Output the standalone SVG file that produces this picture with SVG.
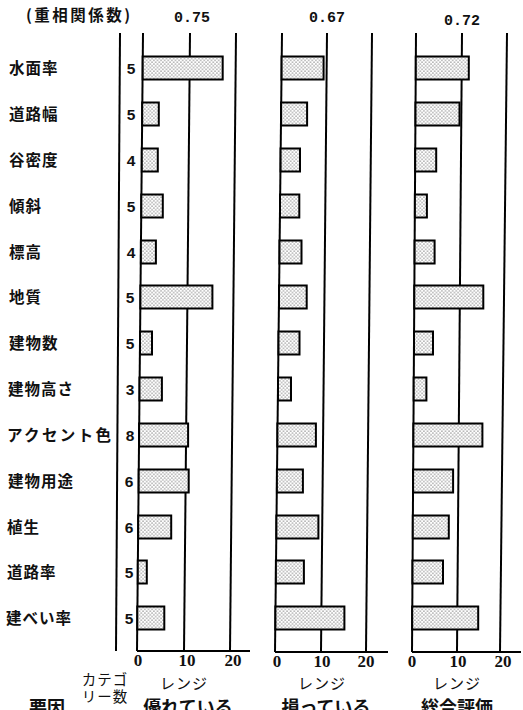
<svg xmlns="http://www.w3.org/2000/svg" width="523" height="710" viewBox="0 0 523 710">
<defs>
<pattern id="dots" patternUnits="userSpaceOnUse" width="3.6" height="3.6">
<rect width="3.6" height="3.6" fill="#fff"/>
<circle cx="0.9" cy="0.9" r="0.55" fill="#000"/>
<circle cx="2.7" cy="2.7" r="0.55" fill="#000"/>
</pattern>
</defs>
<style>
.lbl{font-family:"Noto Sans CJK JP","Noto Sans",sans-serif;font-size:15.5px;font-weight:bold;fill:#111;letter-spacing:1px}
.cat{font-family:"Liberation Sans",Arial,sans-serif;font-size:15.5px;font-weight:bold;fill:#111;text-anchor:middle}
.hdr{font-family:"Noto Sans CJK JP","Noto Sans",sans-serif;font-size:15.5px;font-weight:bold;fill:#111}
.coef{font-family:"Liberation Mono","Courier New",monospace;font-size:15px;font-weight:bold;fill:#111;text-anchor:middle}
.tick{font-family:"Liberation Serif","Times New Roman",serif;font-size:17px;font-weight:bold;fill:#111;text-anchor:middle}
.ax{font-family:"Noto Sans CJK JP",sans-serif;font-size:15px;fill:#111;text-anchor:middle;letter-spacing:1px}
.ax2{font-family:"Noto Sans CJK JP",sans-serif;font-size:14.5px;fill:#111;text-anchor:middle;letter-spacing:1px}
.ttl{font-family:"Noto Sans CJK JP",sans-serif;font-size:18px;font-weight:bold;fill:#111;text-anchor:middle}
.vl{stroke:#000;stroke-width:2;fill:none}
.bar{fill:url(#dots);stroke:#000;stroke-width:2}
</style>
<rect width="523" height="710" fill="#fff"/>

<g id="header">
<text class="hdr" x="26" y="21" textLength="104" lengthAdjust="spacing">(重相関係数)</text>
<text class="coef" x="192" y="22">0.75</text>
<text class="coef" x="327" y="22">0.67</text>
<text class="coef" x="462" y="25">0.72</text>
</g>

<g id="labels">
<text class="lbl" x="9" y="74">水面率</text>
<text class="lbl" x="9" y="120">道路幅</text>
<text class="lbl" x="9" y="166">谷密度</text>
<text class="lbl" x="9" y="212">傾斜</text>
<text class="lbl" x="9" y="258">標高</text>
<text class="lbl" x="9" y="303">地質</text>
<text class="lbl" x="9" y="349">建物数</text>
<text class="lbl" x="8" y="395">建物高さ</text>
<text class="lbl" x="7" y="441" textLength="105" lengthAdjust="spacing">アクセント色</text>
<text class="lbl" x="8" y="487">建物用途</text>
<text class="lbl" x="7" y="533">植生</text>
<text class="lbl" x="7" y="578">道路率</text>
<text class="lbl" x="6" y="624">建べい率</text>
</g>

<g id="categories">
<text class="cat" x="131" y="74">5</text>
<text class="cat" x="131" y="120">5</text>
<text class="cat" x="131" y="166">4</text>
<text class="cat" x="131" y="212">5</text>
<text class="cat" x="131" y="258">4</text>
<text class="cat" x="130" y="303">5</text>
<text class="cat" x="130" y="349">5</text>
<text class="cat" x="130" y="395">3</text>
<text class="cat" x="130" y="441">8</text>
<text class="cat" x="129" y="487">6</text>
<text class="cat" x="129" y="533">6</text>
<text class="cat" x="129" y="578">5</text>
<text class="cat" x="129" y="624">5</text>
</g>

<g id="gridlines">
<line class="vl" x1="120" y1="33" x2="116" y2="651"/>
<line class="vl" x1="143" y1="33" x2="137" y2="651"/>
<line class="vl" x1="190" y1="33" x2="184" y2="651"/>
<line class="vl" x1="236" y1="33" x2="230" y2="651"/>
<line class="vl" x1="137" y1="651" x2="250" y2="651"/>
<line class="vl" x1="282" y1="33" x2="275" y2="652"/>
<line class="vl" x1="327" y1="33" x2="321" y2="652"/>
<line class="vl" x1="372" y1="33" x2="366" y2="652"/>
<line class="vl" x1="275" y1="652" x2="388" y2="652"/>
<line class="vl" x1="416" y1="33" x2="412" y2="652"/>
<line class="vl" x1="462" y1="33" x2="457" y2="652"/>
<line class="vl" x1="507" y1="33" x2="500" y2="652"/>
<line class="vl" x1="412" y1="652" x2="521" y2="652"/>
</g>

<g id="bars-p1">
<rect class="bar" x="142.7" y="56.5" width="80" height="23"/>
<rect class="bar" x="142.2" y="102.5" width="16.6" height="23"/>
<rect class="bar" x="141.8" y="148.5" width="16" height="23"/>
<rect class="bar" x="141.3" y="194.5" width="21.5" height="23"/>
<rect class="bar" x="140.9" y="240.5" width="15" height="23"/>
<rect class="bar" x="140.4" y="285.5" width="72" height="23"/>
<rect class="bar" x="140.0" y="331.5" width="12" height="23"/>
<rect class="bar" x="139.5" y="377.5" width="22.4" height="23"/>
<rect class="bar" x="139.1" y="423.5" width="49" height="23"/>
<rect class="bar" x="138.7" y="469.5" width="50" height="23"/>
<rect class="bar" x="138.2" y="515.5" width="33" height="23"/>
<rect class="bar" x="137.8" y="560.5" width="9" height="23"/>
<rect class="bar" x="137.3" y="606.5" width="27" height="23"/>
</g>

<g id="bars-p2">
<rect class="bar" x="281.6" y="56.5" width="42" height="23"/>
<rect class="bar" x="281.1" y="102.5" width="26" height="23"/>
<rect class="bar" x="280.6" y="148.5" width="19.4" height="23"/>
<rect class="bar" x="280.0" y="194.5" width="19.3" height="23"/>
<rect class="bar" x="279.5" y="240.5" width="22" height="23"/>
<rect class="bar" x="279.0" y="285.5" width="27.7" height="23"/>
<rect class="bar" x="278.5" y="331.5" width="21" height="23"/>
<rect class="bar" x="278.0" y="377.5" width="13" height="23"/>
<rect class="bar" x="277.4" y="423.5" width="38.5" height="23"/>
<rect class="bar" x="276.9" y="469.5" width="26" height="23"/>
<rect class="bar" x="276.4" y="515.5" width="42" height="23"/>
<rect class="bar" x="275.9" y="560.5" width="28" height="23"/>
<rect class="bar" x="275.4" y="606.5" width="69" height="23"/>
</g>

<g id="bars-p3">
<rect class="bar" x="415.8" y="56.5" width="53" height="23"/>
<rect class="bar" x="415.5" y="102.5" width="44" height="23"/>
<rect class="bar" x="415.2" y="148.5" width="21" height="23"/>
<rect class="bar" x="414.9" y="194.5" width="12" height="23"/>
<rect class="bar" x="414.6" y="240.5" width="20" height="23"/>
<rect class="bar" x="414.3" y="285.5" width="69" height="23"/>
<rect class="bar" x="414.0" y="331.5" width="19" height="23"/>
<rect class="bar" x="413.7" y="377.5" width="12.7" height="23"/>
<rect class="bar" x="413.4" y="423.5" width="69" height="23"/>
<rect class="bar" x="413.1" y="469.5" width="40" height="23"/>
<rect class="bar" x="412.8" y="515.5" width="36" height="23"/>
<rect class="bar" x="412.5" y="560.5" width="30.5" height="23"/>
<rect class="bar" x="412.2" y="606.5" width="66" height="23"/>
</g>

<g id="axis-labels">
<text class="tick" x="138" y="666">0</text>
<text class="tick" x="187" y="666">10</text>
<text class="tick" x="233" y="666">20</text>
<text class="tick" x="277" y="667">0</text>
<text class="tick" x="322" y="667">10</text>
<text class="tick" x="366" y="667">20</text>
<text class="tick" x="412" y="667">0</text>
<text class="tick" x="458" y="667">10</text>
<text class="tick" x="503" y="667">20</text>
<text class="ax" x="184" y="689">レンジ</text>
<text class="ax" x="322" y="689">レンジ</text>
<text class="ax" x="457" y="689">レンジ</text>
<text class="ax2" x="105" y="685">カテゴ</text>
<text class="ax2" x="105" y="702">リー数</text>
</g>

<g id="titles">
<text class="ttl" x="47" y="714">要因</text>
<text class="ttl" x="188" y="714">優れている</text>
<text class="ttl" x="326" y="714">損っている</text>
<text class="ttl" x="457" y="714">総合評価</text>
</g>
</svg>
